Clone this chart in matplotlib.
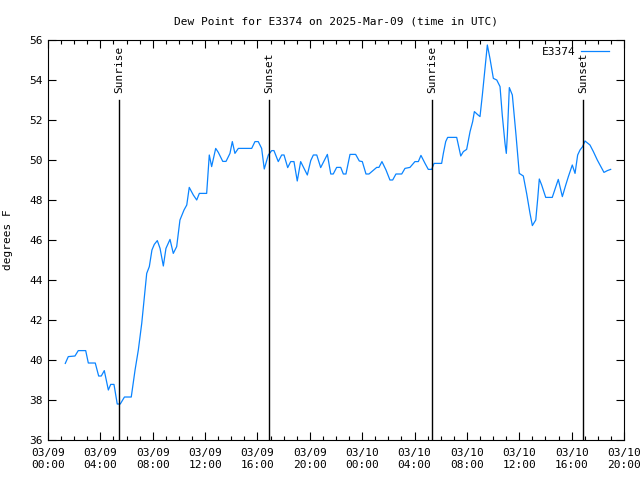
import pandas as pd
import matplotlib
matplotlib.use("Agg")
import matplotlib.pyplot as plt
from matplotlib.ticker import MultipleLocator

plt.rcParams['font.family'] = ['DejaVu Sans Mono']
plt.rcParams['font.size'] = 8

# hours since 2025-03-09 00:00 UTC
horas = [1.32, 1.55, 2.06, 2.31, 2.88, 3.08, 3.61, 3.87, 4.07, 4.30, 4.61, 4.79, 5.04, 5.29,
         5.52, 5.84, 6.36, 6.65, 6.90, 7.16, 7.36, 7.54, 7.74, 7.94, 8.12, 8.35, 8.56, 8.81,
         9.01, 9.32, 9.57, 9.83, 10.08, 10.39, 10.60, 10.79, 11.10, 11.36, 11.56, 12.12, 12.32,
         12.50, 12.81, 13.01, 13.35, 13.60, 13.90, 14.08, 14.28, 14.54, 15.56, 15.81, 16.06,
         16.32, 16.52, 16.83, 17.09, 17.26, 17.59, 17.85, 18.03, 18.31, 18.54, 18.79, 19.04,
         19.30, 19.81, 20.07, 20.27, 20.53, 20.83, 21.34, 21.60, 21.79, 22.05, 22.36, 22.56,
         22.76, 23.07, 23.50, 23.78, 24.01, 24.29, 24.52, 25.11, 25.28, 25.51, 25.82, 26.12,
         26.33, 26.58, 27.02, 27.27, 27.65, 28.03, 28.29, 28.49, 28.80, 29.05, 29.31, 29.49,
         30.07, 30.20, 30.38, 30.53, 31.22, 31.35, 31.53, 31.73, 31.98, 32.24, 32.44, 32.57,
         32.80, 33.00, 33.18, 33.38, 33.56, 33.76, 34.02, 34.28, 34.53, 34.70, 34.91, 35.01,
         35.09, 35.24, 35.47, 35.75, 36.00, 36.31, 36.57, 36.82, 37.00, 37.26, 37.41, 37.53,
         37.71, 38.02, 38.52, 38.98, 39.29, 39.55, 39.75, 40.05, 40.26, 40.46, 40.64, 40.84,
         41.02, 41.40, 41.66, 41.96, 42.30, 42.47, 42.73, 42.98]
dewpoint = [39.83, 40.17, 40.2, 40.47, 40.47, 39.85, 39.85, 39.2, 39.2, 39.47, 38.5, 38.78, 38.78,
            37.8, 37.8, 38.15, 38.15, 39.5, 40.5, 41.83, 43.17, 44.33, 44.67, 45.5, 45.78, 45.97,
            45.58, 44.7, 45.58, 46.03, 45.33, 45.67, 47.0, 47.5, 47.75, 48.63, 48.25, 48.0, 48.33,
            48.33, 50.25, 49.67, 50.58, 50.38, 49.93, 49.93, 50.33, 50.92, 50.33, 50.58, 50.58,
            50.92, 50.92, 50.58, 49.55, 50.25, 50.47, 50.47, 49.92, 50.25, 50.25, 49.62, 49.92,
            49.92, 48.95, 49.92, 49.25, 49.97, 50.25, 50.25, 49.62, 50.28, 49.3, 49.3, 49.63,
            49.63, 49.3, 49.3, 50.28, 50.28, 49.95, 49.92, 49.3, 49.3, 49.63, 49.63, 49.92, 49.5,
            49.0, 49.0, 49.3, 49.3, 49.58, 49.63, 49.92, 49.92, 50.23, 49.83, 49.53, 49.53, 49.83,
            49.83, 50.33, 50.92, 51.13, 51.13, 50.75, 50.2, 50.42, 50.53, 51.42, 51.92, 52.42,
            52.28, 52.17, 53.25, 54.58, 55.75, 55.08, 54.08, 54.0, 53.67, 52.25, 50.83, 50.33,
            51.25, 53.62, 53.25, 51.25, 49.33, 49.2, 48.3, 47.33, 46.72, 47.0, 48.08, 49.05,
            48.75, 48.13, 48.13, 49.03, 48.17, 48.75, 49.17, 49.75, 49.33, 50.25, 50.5, 50.67,
            50.95, 50.75, 50.42, 50.0, 49.58, 49.38, 49.47, 49.53]

eventos = ["Sunrise", "Sunset", "Sunrise", "Sunset"]
horas_eventos = [5.42, 16.88, 29.33, 40.87]

inicio = pd.Timestamp("2025-03-09 00:00")
ticks_x = list(range(0, 45, 4))
etiquetas_x = [(inicio + pd.Timedelta(hours=h)).strftime("%m/%d\n%H:%M") for h in ticks_x]

fig = plt.figure(figsize=(6.4, 4.8), dpi=100)
ax = fig.add_axes([0.075, 0.0833, 0.9, 0.8334])

ax.plot(horas, dewpoint, color="#0a84ff", lw=0.9, label="E3374")

for nombre, h in zip(eventos, horas_eventos):
    ax.plot([h, h], [36, 53], color="black", lw=1)
    ax.text(h, 53.35, nombre, rotation=90, ha="center", va="bottom", fontsize=8)

ax.set_xlim(0, 44)
ax.set_ylim(36, 56)
ax.set_xticks(ticks_x)
ax.set_xticklabels(etiquetas_x)
ax.xaxis.set_minor_locator(MultipleLocator(1))
ax.yaxis.set_major_locator(MultipleLocator(2))
ax.tick_params(which="both", direction="in", top=True, right=True)
ax.tick_params(which="major", length=6, width=0.8)
ax.tick_params(which="minor", length=3, width=0.8)
ax.tick_params(axis="x", pad=6)

ax.set_ylabel("degrees F", labelpad=12)
ax.set_title("Dew Point for E3374 on 2025-Mar-09 (time in UTC)", fontsize=8, pad=11)
ax.legend(loc="upper right", bbox_to_anchor=(0.986, 1.0), frameon=False, handlelength=2.5,
          handletextpad=0.5, markerfirst=False, borderaxespad=0.2, fontsize=8)

fig.savefig("out.png", dpi=100)
